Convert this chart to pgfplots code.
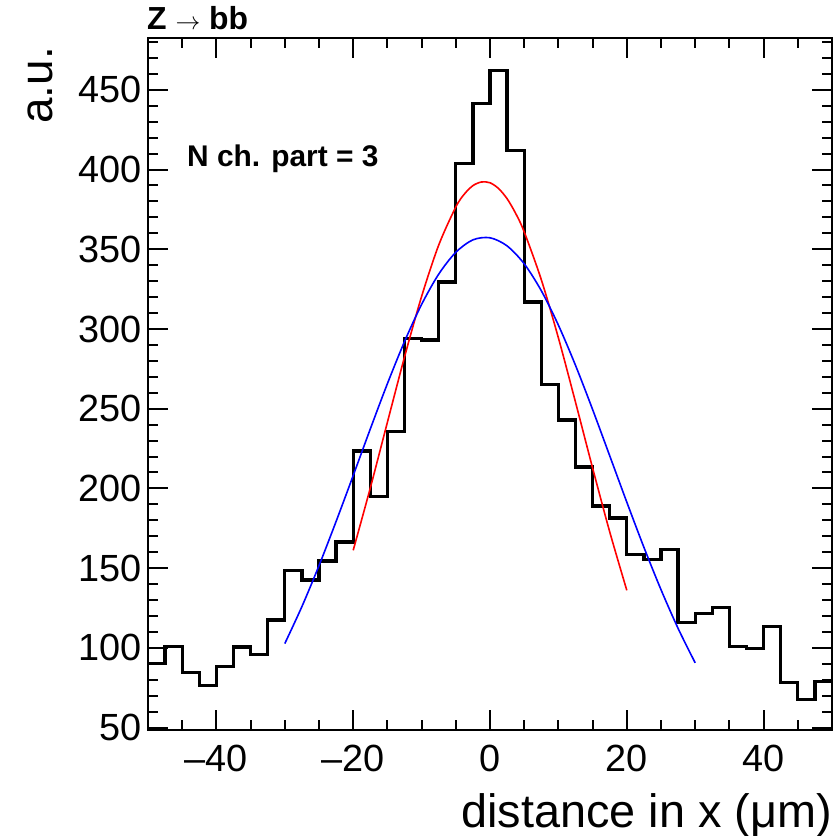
\documentclass[border=0pt]{standalone}
\usepackage{pgfplots}
\pgfplotsset{compat=1.18}
\usepackage{fontspec}
\setmainfont{Liberation Sans}
\begin{document}
\begin{tikzpicture}
\begin{axis}[
  scale only axis, width=684bp, height=692bp,
  xmin=-50, xmax=50, ymin=48.5, ymax=482.5,
  xtick={-40,-20,0,20,40},
  xticklabels={\textendash40,\textendash20,0,20,40},
  minor xtick={-45,-35,-30,-25,-15,-10,-5,5,10,15,25,30,35,45},
  ytick={50,100,150,200,250,300,350,400,450},
  yticklabels={50,100,150,200,250,300,350,400,450},
  minor ytick={60,70,80,90,110,120,130,140,160,170,180,190,210,220,230,240,260,270,280,290,310,320,330,340,360,370,380,390,410,420,430,440,460,470,480},
  tick align=inside,
  major tick length=20bp, minor tick length=10bp,
  every tick/.style={black, line width=2bp},
  axis line style={line width=2.5bp},
  tick label style={font=\fontsize{38}{40}\selectfont},
  xticklabel style={inner sep=0pt, yshift=-15bp},
  yticklabel style={inner sep=0pt, xshift=-6bp},
]
\addplot[const plot mark left, black, line width=3.3bp] coordinates {
(-50,90) (-47.5,101) (-45,84.5) (-42.5,76.5) (-40,88.5) (-37.5,100.5)
(-35,96) (-32.5,117.5) (-30,148.5) (-27.5,142.5) (-25,154.5) (-22.5,166.5)
(-20,223.5) (-17.5,195) (-15,235.5) (-12.5,294) (-10,293) (-7.5,329.5)
(-5,404) (-2.5,441.5) (0,462) (2.5,412) (5,317) (7.5,265) (10,243)
(12.5,213.5) (15,189) (17.5,181.5) (20,158.5) (22.5,155.5) (25,161.5)
(27.5,116) (30,121.5) (32.5,125.5) (35,101) (37.5,99.5) (40,113.5)
(42.5,78.5) (45,67.5) (47.5,79) (50,79)};
\addplot[smooth, red, line width=1.6bp] coordinates {
(-20,161.2) (-17.5,200.3) (-15,241.5) (-12.5,282.4) (-10,320.4) (-7.5,352.6)
(-5,376.5) (-3.75,384.6) (-2.5,389.9) (-1.25,392.2) (0,391.7) (1.25,388.1)
(2.5,381.7) (3.75,372.5) (5,360.9)
(7.5,330.9) (10,294.4) (12.5,254.1) (15,212.8) (17.5,172.8) (20,136.1)};
\addplot[smooth, blue, line width=1.6bp] coordinates {
(-30,102.7) (-27.5,125.9) (-25,151.6) (-22.5,179.3) (-20,208.1) (-17.5,237.3)
(-15,265.7) (-12.5,292.1) (-10,315.4) (-7.5,334.4) (-5,348.1) (-2.5,355.9)
(0,357.2) (2.5,352.1) (5,340.9) (7.5,324.0) (10,302.4) (12.5,277.2)
(15,249.5) (17.5,220.5) (20,191.4) (22.5,163.1) (25,136.5) (27.5,112.2) (30,90.6)};
\coordinate (NW) at (rel axis cs:0,1);
\coordinate (NE) at (rel axis cs:1,1);
\coordinate (SW) at (rel axis cs:0,0);
\coordinate (SE) at (rel axis cs:1,0);
\end{axis}
\node[anchor=base west, inner sep=0pt, font=\fontsize{32}{34}\selectfont\bfseries] at ([shift={(-1bp,8bp)}]NW) {Z $\rightarrow$ bb};
\node[anchor=base west, inner sep=0pt, font=\fontsize{30}{32}\selectfont\bfseries] at ([shift={(39bp,-128.7bp)}]NW) {N ch. part = 3};
\node[anchor=base east, rotate=90, inner sep=0pt, font=\fontsize{46}{50}\selectfont] at ([shift={(-95bp,-9bp)}]NW) {a.u.};
\node[anchor=base east, inner sep=0pt, font=\fontsize{47}{50}\selectfont] at ([shift={(0bp,-97bp)}]SE) {distance in x (μm)};
\pgfresetboundingbox
\path ([shift={(-148bp,-106bp)}]SW) rectangle ([shift={(5bp,38bp)}]NE);
\end{tikzpicture}
\end{document}
